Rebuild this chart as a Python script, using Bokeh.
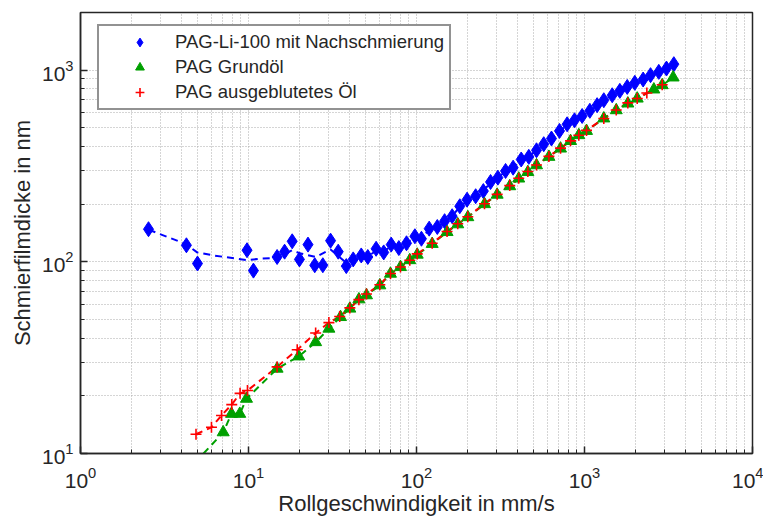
from bokeh.plotting import figure
from bokeh.models import FixedTicker, Legend, LegendItem, LogTickFormatter
from bokeh.embed import file_html
from bokeh.resources import INLINE

# ---------------- data ----------------
blue_x = [2.54, 4.27, 4.97, 9.8, 10.7, 14.8, 16.4, 18.2, 20.1, 22.6, 24.8, 27.7, 30.8, 34.2, 38.2,
          42, 46.9, 51.3, 57.5, 63.8, 70.7, 78.5, 87.2, 97.8, 107, 119, 133, 147, 163, 181, 200,
          225, 250, 276, 305, 339, 376, 420, 466, 518, 572, 636, 710, 788, 872, 968, 1076, 1189,
          1303, 1462, 1623, 1796, 1992, 2234, 2472, 2768, 3076, 3402]
blue_y = [148, 122, 98, 115, 90, 106, 113, 128, 103, 123, 96, 96, 129, 113, 95,
          103, 108, 106, 117, 112, 123, 118, 125, 136, 132, 149, 152, 163, 173, 195, 211,
          220, 234, 261, 275, 298, 310, 342, 353, 382, 411, 440, 482, 522, 548, 577, 614, 657,
          697, 740, 780, 818, 859, 894, 942, 980, 1020, 1075]

blue_trend_x = [2.55, 4.22, 4.95, 6.21, 9.82, 11.8, 14.8, 18.2, 20.1, 25.1, 30.8, 38.2,
                42, 46.9, 51.3, 57.5, 63.8, 70.7, 78.5, 87.2, 97.8, 107, 119, 133, 147, 163, 181,
                200, 225, 250, 276, 305, 339, 376, 420, 466, 518, 572, 636, 710, 788, 872, 968,
                1076, 1189, 1303, 1462, 1623, 1796, 1992, 2234, 2472, 2768, 3076, 3402]
blue_trend_y = [147, 124, 112, 108, 102, 104, 105, 115, 111, 106, 116, 99,
                103, 107, 107, 114, 114, 120, 120, 126, 133, 135, 146, 152, 162, 174, 193,
                208, 221, 236, 258, 275, 296, 312, 340, 355, 382, 410, 441, 480, 520, 548, 578,
                614, 656, 697, 740, 780, 818, 859, 894, 942, 980, 1020, 1075]

green_x = [7.07, 7.92, 8.87, 9.73, 14.8, 19.9, 25.1, 30.1, 35.3, 40.1, 45.4, 50.4, 60.5, 70,
           80.3, 91.2, 101, 124, 152, 176, 202, 254, 302, 359, 406, 460, 518, 614, 720, 826,
           925, 1028, 1303, 1545, 1811, 2060, 2587, 2900, 3370]
green_y = [12.9, 16.1, 16.1, 19.3, 27.7, 32.1, 38.1, 44.8, 51.5, 57.0, 63.7, 66.9, 75.4, 86.7,
           93.9, 102, 109, 124, 143, 157, 171, 200, 224, 248, 272, 294, 319, 353, 390, 427,
           458, 482, 560, 618, 670, 711, 793, 835, 916]
green_line_x = [5.4] + green_x
green_line_y = [10.0] + green_y

red_x = [4.87, 6.02, 6.91, 7.95, 8.91, 9.86, 14.8, 19.5, 25.1, 30.1, 34.9, 40.1, 45.4, 50.4,
         60.5, 70, 80.3, 91.2, 101, 124, 152, 176, 202, 254, 302, 359, 406, 460, 518, 614, 720,
         826, 925, 1028, 1303, 1545, 1811, 2060, 2350, 2900]
red_y = [12.6, 13.7, 15.8, 18.0, 20.6, 21.3, 28.3, 34.8, 42.5, 48.2, 51.9, 57.5, 63.5, 68,
         76, 87, 94, 102, 110, 125, 144, 158, 172, 201, 225, 250, 273, 296, 320, 355, 392,
         428, 458, 485, 560, 620, 675, 712, 760, 840]

labels = ["PAG-Li-100 mit Nachschmierung", "PAG Grundöl", "PAG ausgeblutetes Öl"]
x_title = "Rollgeschwindigkeit in mm/s"
y_title = "Schmierfilmdicke in nm"

x_major = [1, 10, 100, 1000, 10000]
y_major = [10, 100, 1000]
x_minor = [m * d for d in [1, 10, 100, 1000] for m in range(2, 10)]
y_minor = [m * d for d in [10, 100, 1000] for m in range(2, 10)]

FONT = "Liberation Sans"

p = figure(width=763, height=519, x_axis_type="log", y_axis_type="log",
           x_range=(1, 10000), y_range=(10, 2000),
           output_backend="svg", toolbar_location=None,
           min_border_left=80, min_border_right=11, min_border_top=12, min_border_bottom=66)

p.background_fill_color = "white"
p.border_fill_color = "white"
p.outline_line_color = "#262626"
p.outline_line_width = 1.5

xt = FixedTicker(ticks=x_major, minor_ticks=x_minor)
yt = FixedTicker(ticks=y_major, minor_ticks=y_minor)

for ax, t in ((p.xaxis[0], xt), (p.yaxis[0], yt)):
    ax.ticker = t
    ax.formatter = LogTickFormatter()
    ax.major_tick_in = 7
    ax.major_tick_out = 0
    ax.minor_tick_in = 4
    ax.minor_tick_out = 0
    ax.axis_line_color = "#262626"
    ax.axis_line_width = 1.5
    ax.major_tick_line_color = "#262626"
    ax.minor_tick_line_color = "#262626"
    ax.major_tick_line_width = 1.5
    ax.major_label_text_font = FONT
    ax.major_label_text_font_size = "21px"
    ax.major_label_text_color = "#262626"
    ax.axis_label_text_font = FONT
    ax.axis_label_text_font_size = "22px"
    ax.axis_label_text_font_style = "normal"
    ax.axis_label_text_color = "#262626"

p.xaxis.axis_label = x_title
p.yaxis.axis_label = y_title
p.xaxis.major_label_standoff = 13
p.xaxis.axis_label_standoff = 0
p.yaxis.major_label_standoff = 7
p.yaxis.axis_label_standoff = 4

for g, t in ((p.xgrid[0], xt), (p.ygrid[0], yt)):
    g.ticker = t
    g.grid_line_color = "#aaaaaa"
    g.grid_line_dash = "1 2"
    g.grid_line_width = 1
    g.minor_grid_line_color = "#aaaaaa"
    g.minor_grid_line_dash = "1 2"
    g.minor_grid_line_width = 1

# lines
p.line(blue_trend_x, blue_trend_y, line_color="#0000ff", line_width=2, line_dash="7 5")
p.line(green_line_x, green_line_y, line_color="#00a000", line_width=2, line_dash="7 5")
p.line(red_x, red_y, line_color="#ff0000", line_width=2, line_dash="7 5")

rb = p.scatter(blue_x, blue_y, marker="diamond", size=15, fill_color="#0000ff", line_color="#0000ff")
rg = p.scatter(green_x, green_y, marker="triangle", size=12, fill_color="#00a000", line_color="#00a000")
rr = p.scatter(red_x, red_y, marker="cross", size=11, line_color="#ff0000", line_width=1.6)

legend = Legend(items=[LegendItem(label=labels[0], renderers=[rb]),
                       LegendItem(label=labels[1], renderers=[rg]),
                       LegendItem(label=labels[2], renderers=[rr])],
                location=(17, 343), padding=5, spacing=3, label_height=22, glyph_height=22,
                glyph_width=71, label_standoff=0, margin=0,
                label_text_font=FONT, label_text_font_size="18.5px", label_text_color="#262626",
                border_line_color="#262626", border_line_width=2, background_fill_alpha=1)
p.add_layout(legend, "center")

open("out.html", "w").write(file_html(p, INLINE))
